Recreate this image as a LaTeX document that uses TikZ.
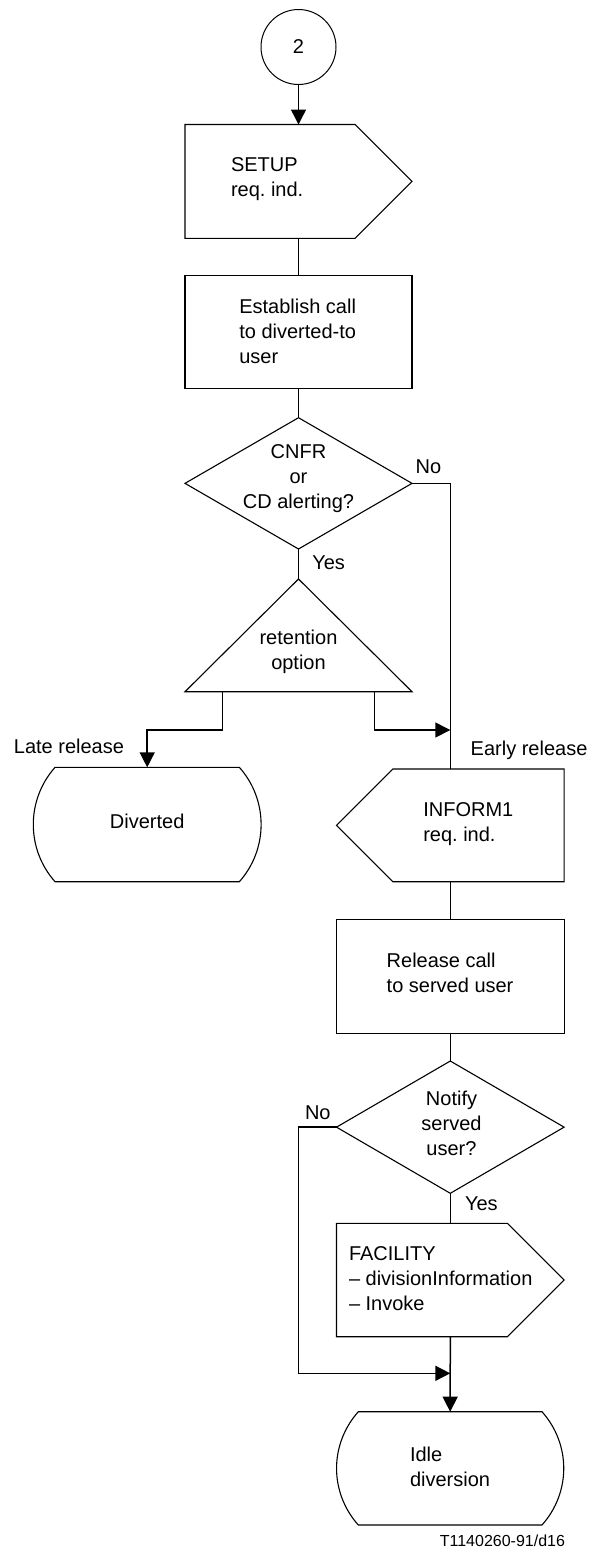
\documentclass[tikz,border=0pt]{standalone}
\usepackage{fontspec}
\setmainfont{Liberation Sans}
\usetikzlibrary{arrows.meta,calc}

\begin{document}
\frenchspacing
\begin{tikzpicture}[x=1pt,y=-1pt,
  every node/.style={inner sep=0pt, outer sep=0pt},
  box/.style={rectangle, minimum width=#1},
  shapeline/.style={draw=black, line width=1.1pt, line join=miter},
  flow/.style={draw=black, line width=1.5pt},
  arrowed/.style={flow, -{Triangle[length=15pt,width=15pt]}},
  txt/.style={font=\fontsize{20}{25}\selectfont, align=left,
    execute at begin node=\strut, execute at end node=\strut},
  ctxt/.style={txt, align=center},
  smalltxt/.style={font=\fontsize{16}{20}\selectfont}
]
\fill[white] (0,0) rectangle (591,1551);
\useasboundingbox (0,0) rectangle (591,1551);

% connector 2
\node[circle, draw, line width=1pt, minimum size=75pt,
      font=\fontsize{20}{25}\selectfont] (c2) at (298.5,47) {2};

% SETUP signal (pointing right)
\node[box=227pt, minimum height=113.8pt] (setup) at (298.5,181.4) {};
\draw[shapeline] (setup.north west) -- ($(setup.north east)+(-56.9,0)$)
  -- (setup.east) -- ($(setup.south east)+(-56.9,0)$) -- (setup.south west) -- cycle;
\node[txt, anchor=west] (setup-t) at (231,181) {SETUP\\req. ind.};

% Establish call task
\node[box=227pt, minimum height=112.6pt, shapeline] (est) at (298.5,332) {};
\node[txt, anchor=west] (est-t) at (239.3,334.8) {Establish call\\to diverted-to\\user};

% first decision
\node[box=227pt, minimum height=131.3pt] (q1) at (298.5,483.35) {};
\draw[shapeline] (q1.north) -- (q1.east) -- (q1.south) -- (q1.west) -- cycle;
\node[ctxt] (q1-t) at (298.5,480.6) {CNFR\\or\\CD alerting?};
\node[txt, anchor=west] (q1-no) at (415.7,468.7) {No};
\node[txt, anchor=west] (q1-yes) at (312.3,564.3) {Yes};

% retention option
\node[box=227pt, minimum height=112.7pt] (tri) at (298.5,635.35) {};
\draw[shapeline] (tri.north) -- (tri.south east) -- (tri.south west) -- cycle;
\node[ctxt] (tri-t) at (298.5,653.5) {retention\\option};

% Diverted state
\node[box=227.7pt, minimum height=114.4pt] (div) at (147.2,824.5) {};
\draw[shapeline] ($(div.north west)+(21.7,0)$) -- ($(div.north east)+(-21.7,0)$)
  .. controls +(29,32.6) and +(29,-32.6) .. ($(div.south east)+(-21.7,0)$)
  -- ($(div.south west)+(21.7,0)$)
  .. controls +(-29,-32.6) and +(-29,32.6) .. ($(div.north west)+(21.7,0)$) -- cycle;
\node[txt] (div-t) at (147.2,823.3) {Diverted};
\node[txt, anchor=east] (late) at (124,748.3) {Late release};

% INFORM1 signal (pointing left)
\node[box=227.6pt, minimum height=112.7pt] (inf) at (450.3,825.35) {};
\draw[shapeline] (inf.west) -- ($(inf.north west)+(56.35,0)$) -- (inf.north east)
  -- (inf.south east) -- ($(inf.south west)+(56.35,0)$) -- cycle;
\node[txt, anchor=west] (inf-t) at (423.3,826.2) {INFORM1\\req. ind.};
\node[txt, anchor=west] (early) at (470.7,750.7) {Early release};

% Release call task
\node[box=228pt, minimum height=114pt, shapeline] (rel) at (450.3,976.3) {};
\node[txt, anchor=west] (rel-t) at (386.7,976.3) {Release call\\to served user};

% second decision
\node[box=227.6pt, minimum height=132.3pt] (q2) at (450.3,1127.15) {};
\draw[shapeline] (q2.north) -- (q2.east) -- (q2.south) -- (q2.west) -- cycle;
\node[ctxt] (q2-t) at (451.5,1127.2) {Notify\\served\\user?};
\node[txt, anchor=west] (q2-no) at (305,1114.3) {No};
\node[txt, anchor=west] (q2-yes) at (465,1205) {Yes};

% FACILITY signal (pointing right)
\node[box=227.6pt, minimum height=113.4pt] (fac) at (450.3,1280) {};
\draw[shapeline] (fac.north west) -- ($(fac.north east)+(-56.7,0)$)
  -- (fac.east) -- ($(fac.south east)+(-56.7,0)$) -- (fac.south west) -- cycle;
\node[txt, anchor=west] (fac-t) at (349,1282.1)
  {FACILITY\\\textendash{} divisionInformation\\\textendash{} Invoke};

% Idle diversion state
\node[box=228.3pt, minimum height=113.3pt] (idle) at (450.15,1468.35) {};
\draw[shapeline] ($(idle.north west)+(22.3,0)$) -- ($(idle.north east)+(-22.3,0)$)
  .. controls +(29,32.6) and +(29,-32.6) .. ($(idle.south east)+(-22.3,0)$)
  -- ($(idle.south west)+(22.3,0)$)
  .. controls +(-29,-32.6) and +(-29,32.6) .. ($(idle.north west)+(22.3,0)$) -- cycle;
\node[txt, anchor=west] (idle-t) at (410,1470.3) {Idle\\diversion};

\node[smalltxt, anchor=base east] (ref) at (565,1546.7) {T1140260-91/d16};

% connectors
\coordinate (legL) at ($(tri.south west)+(37.5,0)$);
\coordinate (legR) at ($(tri.south east)+(-37.5,0)$);
\coordinate (lateturn) at (147.2,730);
\coordinate (joinA) at (450.3,730);
\coordinate (noturn) at (298.3,1373.3);
\coordinate (joinB) at (450.3,1373.3);

\draw[arrowed] (c2.south) -- (setup.north);
\draw[flow] (setup.south) -- (est.north);
\draw[flow] (est.south) -- (q1.north);
\draw[flow] (q1.east) -| (inf.north);
\draw[flow] (q1.south) -- (tri.north);
\draw[arrowed] (legL) |- (lateturn) -- (div.north);
\draw[arrowed] (legR) |- (joinA);
\draw[flow] (inf.south) -- (rel.north);
\draw[flow] (rel.south) -- (q2.north);
\draw[flow] (q2.south) -- (fac.north);
\draw[arrowed] (q2.west) -| (noturn) -- (joinB);
\draw[arrowed] (fac.south) -- (idle.north);
\end{tikzpicture}
\end{document}
